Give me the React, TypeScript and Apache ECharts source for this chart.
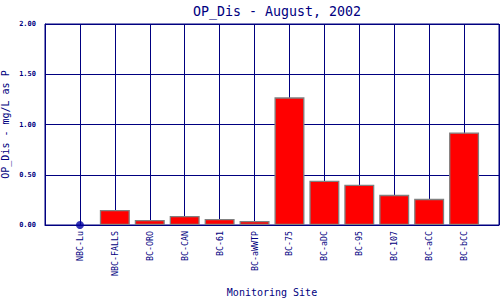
import React, { useEffect, useRef } from "react";
import * as echarts from "echarts";

const categories = ["", "NBC-Lu", "NBC-FALLS", "BC-ORO", "BC-CAN", "BC-61", "BC-aWWTP", "BC-75", "BC-aDC", "BC-95", "BC-107", "BC-aCC", "BC-bCC", ""];
const barValues: (number | null)[] = [null, null, 0.15, 0.05, 0.09, 0.06, 0.04, 1.27, 0.44, 0.40, 0.30, 0.26, 0.92, null];
const pointValues: (number | null)[] = [null, 0, null, null, null, null, null, null, null, null, null, null, null, null];
const yTicks = [0, 0.5, 1.0, 1.5, 2.0];

const NAVY = "#000080";
const MONO = "'DejaVu Sans Mono', 'Liberation Mono', monospace";

export default function App() {
  const ref = useRef<HTMLDivElement>(null);
  useEffect(() => {
    if (!ref.current) return;
    const chart = echarts.init(ref.current, undefined, { renderer: "svg" });
    chart.setOption({
      animation: false,
      backgroundColor: "#ffffff",
      title: {
        text: "OP_Dis - August, 2002",
        left: 272,
        top: 0,
        textAlign: "center",
        textStyle: { color: NAVY, fontFamily: MONO, fontSize: 13.3, fontWeight: "normal" },
      },
      grid: {
        left: 45,
        right: 1,
        top: 24,
        bottom: 75,
        containLabel: false,
        outerBoundsMode: "none",
        show: true,
        borderColor: NAVY,
        borderWidth: 1,
        backgroundColor: "#ffffff",
      },
      xAxis: {
        type: "category",
        data: categories,
        boundaryGap: false,
        name: "Monitoring Site",
        nameLocation: "middle",
        nameGap: 62,
        nameMoveOverlap: false,
        nameTextStyle: { color: NAVY, fontFamily: MONO, fontSize: 10 },
        axisLine: { show: true, lineStyle: { color: NAVY, width: 1 } },
        axisTick: { show: false },
        axisLabel: {
          rotate: 90,
          interval: 0,
          margin: 6,
          color: NAVY,
          fontFamily: MONO,
          fontSize: 8.3,
        },
        splitLine: { show: true, interval: 0, lineStyle: { color: NAVY, width: 1 } },
      },
      yAxis: {
        type: "value",
        min: yTicks[0],
        max: yTicks[yTicks.length - 1],
        interval: 0.5,
        name: "OP_Dis - mg/L as P",
        nameLocation: "middle",
        nameGap: 35,
        nameMoveOverlap: false,
        nameTextStyle: { color: NAVY, fontFamily: MONO, fontSize: 10 },
        axisLine: { show: true, lineStyle: { color: NAVY, width: 1 } },
        axisTick: { show: false },
        axisLabel: {
          margin: 9,
          color: NAVY,
          fontFamily: MONO,
          fontSize: 7,
          fontWeight: "bold",
          formatter: (v: number) => v.toFixed(2),
        },
        splitLine: { show: true, lineStyle: { color: NAVY, width: 1 } },
      },
      series: [
        {
          type: "bar",
          data: barValues,
          barWidth: 30,
          itemStyle: { color: "#ff0000", borderColor: "#808080", borderWidth: 1.3 },
        },
        {
          type: "scatter",
          data: pointValues,
          symbol: "circle",
          symbolSize: 8,
          itemStyle: { color: "#0000a0" },
          z: 5,
        },
      ],
    });
    return () => chart.dispose();
  }, []);
  return <div ref={ref} style={{ position: "fixed", left: 0, top: 0, width: 500, height: 300 }} />;
}
